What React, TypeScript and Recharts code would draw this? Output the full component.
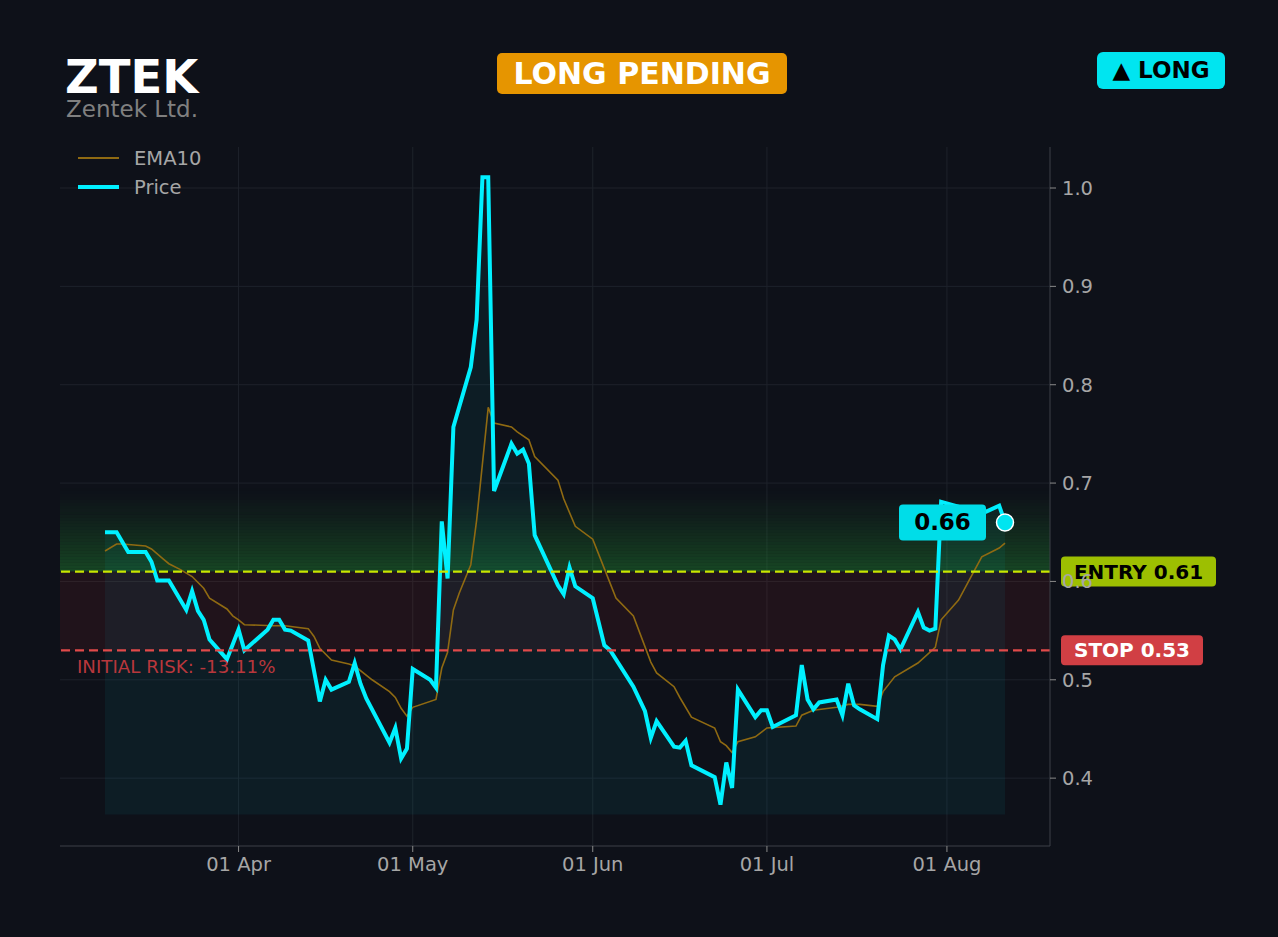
import React from 'react';
import {
  ComposedChart,
  Line,
  Area,
  XAxis,
  YAxis,
  CartesianGrid,
  ReferenceLine,
  ReferenceArea,
  ReferenceDot,
} from 'recharts';

// ---- data (day of year; 90 = 01 Apr) ----
const priceDays = [
  67, 69, 71, 74, 75, 76, 78, 81, 82, 83, 84, 85, 88, 90, 91, 95, 96, 97, 98, 99,
  102, 104, 105, 106, 109, 110, 111, 112, 116, 117, 118, 119, 120, 123, 124, 125, 126, 127,
  130, 131, 132, 133, 134, 137, 138, 139, 140, 141, 145, 146, 147, 148, 151, 153, 154,
  158, 160, 161, 162, 165, 166, 167, 168, 172, 173, 174, 175, 176, 179, 180, 181, 182,
  186, 187, 188, 189, 190, 193, 194, 195, 196, 197, 200, 201, 202, 203, 204, 207, 208,
  209, 210, 211, 214, 216, 217, 218, 221, 222,
];
const priceValues = [
  0.65, 0.65, 0.63, 0.63, 0.62, 0.601, 0.601, 0.571, 0.59, 0.57, 0.561, 0.541, 0.521, 0.551, 0.53, 0.551, 0.561, 0.561, 0.551, 0.55,
  0.54, 0.478, 0.5, 0.49, 0.498, 0.517, 0.496, 0.481, 0.436, 0.451, 0.42, 0.43, 0.511, 0.5, 0.492, 0.661, 0.603, 0.757,
  0.818, 0.866, 1.011, 1.011, 0.692, 0.74, 0.73, 0.734, 0.72, 0.647, 0.596, 0.587, 0.614, 0.595, 0.583, 0.535, 0.53,
  0.493, 0.468, 0.441, 0.458, 0.432, 0.431, 0.438, 0.413, 0.401, 0.373, 0.416, 0.39, 0.49, 0.462, 0.469, 0.469, 0.452,
  0.464, 0.515, 0.48, 0.47, 0.477, 0.48, 0.464, 0.496, 0.474, 0.47, 0.46, 0.515, 0.545, 0.541, 0.531, 0.569, 0.553,
  0.55, 0.552, 0.681, 0.676, 0.656, 0.656, 0.669, 0.677, 0.66,
];
const emaDays = [
  67, 69, 70, 74, 75, 77, 78, 80, 82, 84, 85, 88, 89, 90, 91, 96, 98, 102, 103, 104, 106, 109, 110,
  113, 116, 117, 118, 119, 120, 124, 125, 126, 127, 128, 130, 131, 133, 134, 137, 138, 140, 141,
  145, 146, 148, 151, 153, 155, 158, 161, 162, 165, 166, 168, 172, 173, 174, 175, 176, 179, 181,
  186, 187, 189, 193, 195, 197, 200, 201, 203, 207, 210, 211, 214, 216, 218, 221, 222,
];
const emaValues = [
  0.631, 0.638, 0.638, 0.636, 0.633, 0.623, 0.618, 0.612, 0.605, 0.593, 0.583, 0.572, 0.565, 0.561, 0.556, 0.555, 0.555, 0.552, 0.544, 0.532, 0.52, 0.516, 0.514,
  0.5, 0.488, 0.482, 0.471, 0.463, 0.472, 0.48, 0.512, 0.528, 0.571, 0.588, 0.617, 0.662, 0.777, 0.761, 0.757, 0.752, 0.744, 0.727,
  0.703, 0.684, 0.656, 0.643, 0.613, 0.583, 0.565, 0.518, 0.507, 0.493, 0.482, 0.462, 0.451, 0.437, 0.433, 0.426, 0.437, 0.442, 0.451,
  0.453, 0.464, 0.469, 0.472, 0.475, 0.475, 0.473, 0.488, 0.503, 0.517, 0.533, 0.561, 0.581, 0.603, 0.625, 0.634, 0.639,
];
const xTicks = [90, 120, 151, 181, 212];
const xTickLabels = ['01 Apr', '01 May', '01 Jun', '01 Jul', '01 Aug'];
const yTicks = [0.4, 0.5, 0.6, 0.7, 0.8, 0.9, 1.0];
const ENTRY = 0.61;
const STOP = 0.53;
const LAST_DAY = 222;
const LAST_PRICE = 0.66;
const RISK_TEXT = 'INITIAL RISK: -13.11%';
const TARGET_TOP = 0.695;
const AREA_BASE = 0.363;

const BG = '#0e1119';
const CYAN = '#00f0ff';
const FONT = '"DejaVu Sans", sans-serif';

// merged table
const allDays = Array.from(new Set([...priceDays, ...emaDays])).sort((a, b) => a - b);
const rows = allDays.map((d) => {
  const pi = priceDays.indexOf(d);
  const ei = emaDays.indexOf(d);
  return {
    day: d,
    price: pi >= 0 ? priceValues[pi] : null,
    ema: ei >= 0 ? emaValues[ei] : null,
  };
});

const BAND_N = 28;
const bands = Array.from({ length: BAND_N }, (_, i) => ({
  y1: ENTRY + ((TARGET_TOP - ENTRY) * i) / BAND_N,
  y2: ENTRY + ((TARGET_TOP - ENTRY) * (i + 1)) / BAND_N,
  op: 0.36 * Math.pow(1 - i / BAND_N, 1.3),
}));

const EntryTag = (props: any) => {
  const vb = props.viewBox || {};
  const x = vb.x + vb.width + 11;
  const y = vb.y;
  return (
    <g>
      <rect x={x} y={y - 15} width={155} height={30} rx={4} fill="#a8cc00" fillOpacity={0.93} />
      <text x={x + 77.5} y={y + 7} textAnchor="middle" fontFamily={FONT} fontWeight="bold" fontSize={20} fill="#000">
        ENTRY 0.61
      </text>
    </g>
  );
};

const StopTag = (props: any) => {
  const vb = props.viewBox || {};
  const x = vb.x + vb.width + 11;
  const y = vb.y;
  return (
    <g>
      <rect x={x} y={y - 15} width={142} height={30} rx={4} fill="#d13f44" />
      <text x={x + 71} y={y + 7} textAnchor="middle" fontFamily={FONT} fontWeight="bold" fontSize={20} fill="#fff">
        STOP 0.53
      </text>
      <text x={vb.x + 17} y={y + 23} fontFamily={FONT} fontSize={18.2} fill="#b8373c">
        {RISK_TEXT}
      </text>
    </g>
  );
};

const LastShape = (props: any) => {
  const { cx, cy } = props;
  return (
    <g>
      <rect x={cx - 106} y={cy - 18} width={87} height={36} rx={4} fill="#00dde8" />
      <text x={cx - 62.5} y={cy + 8} textAnchor="middle" fontFamily={FONT} fontWeight="bold" fontSize={23} fill="#000">
        {LAST_PRICE.toFixed(2)}
      </text>
      <circle cx={cx} cy={cy} r={8.5} fill="#00e5f0" stroke="#fff" strokeWidth={1.5} />
    </g>
  );
};

const tickStyle = { fill: '#a6a6a6', fontSize: 19.5, fontFamily: FONT };

export default function App() {
  return (
    <div
      style={{
        position: 'absolute',
        top: 0,
        left: 0,
        width: 1278,
        height: 937,
        background: BG,
        fontFamily: FONT,
        overflow: 'hidden',
      }}
    >
      <ComposedChart
        width={1278}
        height={937}
        data={rows}
        margin={{ top: 147, right: 148, left: 60, bottom: 51 }}
      >
        <CartesianGrid
          stroke="#1e222b"
          strokeWidth={1}
          horizontalValues={yTicks}
          verticalValues={xTicks}
        />
        {bands.map((b, i) => (
          <ReferenceArea key={i} y1={b.y1} y2={b.y2} fill="#27a336" fillOpacity={b.op} stroke="none" ifOverflow="hidden" />
        ))}
        <ReferenceArea y1={STOP} y2={ENTRY} fill="#ff3030" fillOpacity={0.08} stroke="none" />
        <XAxis
          dataKey="day"
          type="number"
          domain={[59.25, 229.75]}
          allowDataOverflow
          ticks={xTicks}
          tickFormatter={(v: number) => xTickLabels[xTicks.indexOf(v)] ?? ''}
          height={40}
          tick={tickStyle}
          tickSize={6}
          tickMargin={5}
          axisLine={{ stroke: '#3d4048' }}
          tickLine={{ stroke: '#8a8a8a' }}
        />
        <YAxis
          orientation="right"
          type="number"
          domain={[0.331, 1.0417]}
          allowDataOverflow
          ticks={yTicks}
          tickFormatter={(v: number) => v.toFixed(1)}
          width={80}
          tick={{ ...tickStyle, textAnchor: 'start' }}
          tickSize={6}
          tickMargin={6}
          axisLine={{ stroke: '#3d4048' }}
          tickLine={{ stroke: '#8a8a8a' }}
        />
        <Area
          type="linear"
          dataKey="price"
          baseValue={AREA_BASE}
          stroke="none"
          fill="#00e5ff"
          fillOpacity={0.055}
          connectNulls
          isAnimationActive={false}
          dot={false}
          activeDot={false}
        />
        <Line
          type="linear"
          dataKey="ema"
          stroke="#8f6a12"
          strokeWidth={1.6}
          dot={false}
          activeDot={false}
          connectNulls
          isAnimationActive={false}
        />
        <Line
          type="linear"
          dataKey="price"
          stroke={CYAN}
          strokeWidth={4}
          strokeLinejoin="miter"
          dot={false}
          activeDot={false}
          connectNulls
          isAnimationActive={false}
        />
        <ReferenceLine y={ENTRY} stroke="#c8e600" strokeWidth={2.2} strokeDasharray="9 5" label={<EntryTag />} />
        <ReferenceLine y={STOP} stroke="#e04a4a" strokeWidth={2.2} strokeDasharray="9 5" label={<StopTag />} />
        <ReferenceDot x={LAST_DAY} y={LAST_PRICE} r={8.5} shape={(p: any) => <LastShape {...p} />} />
      </ComposedChart>

      {/* header */}
      <div style={{ position: 'absolute', left: 65, top: 49, fontSize: 46.5, fontWeight: 'bold', color: '#fff', lineHeight: '56px' }}>
        ZTEK
      </div>
      <div style={{ position: 'absolute', left: 66, top: 95, fontSize: 23, color: '#808080', lineHeight: '28px' }}>
        Zentek Ltd.
      </div>
      <div
        style={{
          position: 'absolute',
          left: 497,
          top: 53,
          width: 290,
          height: 41,
          borderRadius: 5,
          background: '#e69500',
          color: '#fff',
          fontWeight: 'bold',
          fontSize: 30,
          lineHeight: '41px',
          textAlign: 'center',
        }}
      >
        LONG PENDING
      </div>
      <div
        style={{
          position: 'absolute',
          left: 1097,
          top: 52,
          width: 128,
          height: 37,
          borderRadius: 6,
          background: '#00e5f0',
          color: '#000',
          fontWeight: 'bold',
          fontSize: 23,
          lineHeight: '37px',
          textAlign: 'center',
        }}
      >
        ▲ LONG
      </div>

      {/* legend */}
      <svg style={{ position: 'absolute', left: 70, top: 145 }} width={160} height={60}>
        <line x1={8} y1={13} x2={49} y2={13} stroke="#8f6a12" strokeWidth={2} />
        <text x={64} y={20} fontFamily={FONT} fontSize={19.5} fill="#a6a6a6">EMA10</text>
        <line x1={8} y1={42} x2={49} y2={42} stroke={CYAN} strokeWidth={4} />
        <text x={64} y={49} fontFamily={FONT} fontSize={19.5} fill="#a6a6a6">Price</text>
      </svg>
    </div>
  );
}
